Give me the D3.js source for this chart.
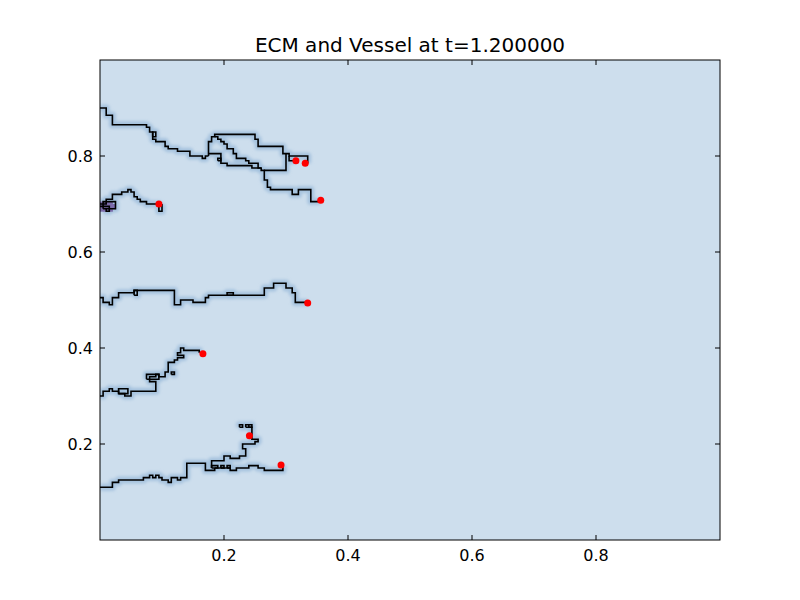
<!DOCTYPE html>
<html><head><meta charset="utf-8">
<script src="https://cdn.jsdelivr.net/npm/d3@7"></script>
<style>body{margin:0;background:#fff}svg{display:block}text{font-family:"DejaVu Sans",sans-serif}</style>
</head><body>
<svg id="c" width="800" height="600"></svg>
<script>
// grid spacing of the simulation lattice (vertices are lattice indices)
const h = 0.005;
const xTicks = [0.2, 0.4, 0.6, 0.8];
const yTicks = [0.2, 0.4, 0.6, 0.8];
const titleText = "ECM and Vessel at t=1.200000";

// vessel segments, [ix, iy] lattice indices
const vesselTop = [[0,180],[2,180],[2,177],[4,177],[4,173],[15,173],[15,172],[16,172],[16,170],[17,170],[17,167],[18,167],[18,166],[21,166],[21,164],[22,164],[22,163],[25,163],[25,162],[29,162],[29,160],[33,160],[33,159],[34,159],[34,160],[35,160]];
const vesselTopUpper = [[35,160],[35,166],[36,166],[36,168],[37,168],[37,169],[50,169],[50,167],[51,167],[51,164],[59,164],[59,161],[61,161],[61,160],[67,160],[67,157]];
const vesselTopTip = [[61,160],[61,158],[63,158]];
const vesselTopLower = [[35,161],[39,161],[39,157],[41,157],[41,156],[49,156],[49,155],[52,155],[52,154],[53,154],[53,150],[54,150],[54,147],[55,147],[55,146],[62,146],[62,144],[64,144],[64,146],[68,146],[68,141],[71,141]];
const vesselTopStair = [[37,168],[38,168],[38,167],[39,167],[39,166],[40,166],[40,165],[41,165],[41,163],[43,163],[43,161],[44,161],[44,159],[47,159],[47,158],[48,158],[48,157],[51,157],[51,155],[52,155]];
const vesselTopLoop = [[53,154],[60,154],[60,161]];
const vesselB = [[0,140],[2,140],[2,142],[4,142],[4,144],[7,144],[7,145],[9,145],[9,146],[10,146],[10,145],[11,145],[11,143],[12,143],[12,142],[13,142],[13,141],[15,141],[15,140],[19,140],[19,137],[20,137],[20,140]];
const vesselBKnot = [[0,139],[3,139],[3,137],[2,137],[2,138]];
const vesselC = [[0,101],[1,101],[1,99],[3,99],[3,98],[4,98],[4,101],[6,101],[6,103],[11,103],[11,104],[24,104],[24,98],[26,98],[26,100],[30,100],[30,99],[34,99],[34,101],[35,101],[35,102],[53,102],[53,105],[56,105],[56,107],[60,107],[60,105],[62,105],[62,103],[63,103],[63,99],[67,99]];
const vesselD = [[0,60],[1,60],[1,62],[3,62],[3,63],[4,63],[4,62],[6,62],[6,61],[8,61],[8,60],[10,60],[10,62],[18,62],[18,66],[16,66],[16,68],[18,68],[18,69],[19,69],[19,68],[21,68],[21,70],[22,70],[22,74],[24,74],[24,75],[25,75],[25,76],[27,76],[27,77],[25,77],[25,78],[26,78],[26,80],[27,80],[27,79],[32,79],[32,78]];
const vesselE = [[0,22],[4,22],[4,24],[6,24],[6,25],[14,25],[14,26],[16,26],[16,27],[17,27],[17,26],[18,26],[18,27],[19,27],[19,26],[20,26],[20,25],[22,25],[22,24],[23,24],[23,26],[25,26],[25,25],[26,25],[26,26],[28,26],[28,32],[34,32],[34,29],[37,29],[37,30]];
const vesselELower = [[37,30],[42,30],[42,29],[44,29],[44,30],[48,30],[48,31],[51,31],[51,30],[53,30],[53,29],[59,29],[59,31]];
const vesselEUpper = [[36,30],[36,33],[40,33],[40,35],[42,35],[42,34],[45,34],[45,35],[47,35],[47,38],[46,38],[46,40],[50,40],[50,41],[51,41],[51,42],[49,42],[49,47],[48,47],[48,48]];
// small closed vessel loops, [ix0, iy0, ix1, iy1]
const loops = [[17,168,18,170],[38,158,39,159],[1,138,5,141],[11,102,12,104],[41,102,43,103],[6,61,9,63],[15,67,19,69],[23,69,24,70],[36,30,38,31],[39,30,40,31],[41,30,42,31],[45,47,46,48],[47,47,49,48]];
// high-ECM cells near left edge
const denseCells = [[0,137],[1,137],[2,137],[3,137],[0,138],[1,138],[2,138],[3,138],[4,138],[0,139],[1,139],[2,139],[3,139],[4,139],[0,140],[1,140],[2,140],[3,140]];
// sprout tips
const tipX = [0.316, 0.331, 0.356, 0.095, 0.335, 0.166, 0.241, 0.292];
const tipY = [0.790, 0.785, 0.708, 0.700, 0.494, 0.388, 0.217, 0.156];

const svg = d3.select("#c");
const L = 100, R = 720, T = 60, B = 540;
const x = d3.scaleLinear().domain([0,1]).range([L,R]);
const y = d3.scaleLinear().domain([0,1]).range([B,T]);

const defs = svg.append("defs");
defs.append("filter").attr("id","blur").append("feGaussianBlur").attr("stdDeviation",1.4);
defs.append("clipPath").attr("id","clip").append("rect").attr("x",L).attr("y",T).attr("width",R-L).attr("height",B-T);

svg.append("rect").attr("x",L).attr("y",T).attr("width",R-L).attr("height",B-T).attr("fill","#cddeed");

const segs = [vesselTop, vesselTopUpper, vesselTopTip, vesselTopLower, vesselTopStair, vesselTopLoop, vesselB, vesselBKnot, vesselC, vesselD, vesselE, vesselELower, vesselEUpper];
loops.forEach(r => segs.push([[r[0],r[1]],[r[2],r[1]],[r[2],r[3]],[r[0],r[3]],[r[0],r[1]]]));

const line = d3.line().x(d => x(d[0]*h)).y(d => y(d[1]*h));
const g = svg.append("g").attr("clip-path","url(#clip)");

// degraded ECM halo
g.append("g").attr("filter","url(#blur)").selectAll("path").data(segs).join("path")
  .attr("d", line).attr("fill","none").attr("stroke","#a2c0dd").attr("stroke-width",7)
  .attr("stroke-opacity",0.9).attr("stroke-linejoin","round");

g.selectAll("rect.dense").data(denseCells).join("rect").attr("class","dense")
  .attr("x", d => x(d[0]*h)).attr("y", d => y((d[1]+1)*h))
  .attr("width", x(h)-x(0)+0.5).attr("height", y(0)-y(h)+0.5).attr("fill","#7b6aa9");

g.append("g").selectAll("path").data(segs).join("path")
  .attr("d", line).attr("fill","none").attr("stroke","#000").attr("stroke-width",1.6)
  .attr("stroke-linejoin","miter");

g.selectAll("circle").data(tipX).join("circle")
  .attr("cx", d => x(d)).attr("cy", (d,i) => y(tipY[i])).attr("r",3.5).attr("fill","#ff0000");

// frame and ticks (inside, all four sides)
svg.append("rect").attr("x",L).attr("y",T).attr("width",R-L).attr("height",B-T)
  .attr("fill","none").attr("stroke","#000").attr("stroke-width",1);
const tk = 5;
const ax = svg.append("g").attr("stroke","#000").attr("stroke-width",1);
xTicks.forEach(v => {
  ax.append("line").attr("x1",x(v)).attr("x2",x(v)).attr("y1",B).attr("y2",B-tk);
  ax.append("line").attr("x1",x(v)).attr("x2",x(v)).attr("y1",T).attr("y2",T+tk);
});
yTicks.forEach(v => {
  ax.append("line").attr("y1",y(v)).attr("y2",y(v)).attr("x1",L).attr("x2",L+tk);
  ax.append("line").attr("y1",y(v)).attr("y2",y(v)).attr("x1",R).attr("x2",R-tk);
});
const fmt = d3.format(".1f");
svg.append("g").selectAll("text").data(xTicks).join("text")
  .attr("x", d => x(d)).attr("y", B+21).attr("text-anchor","middle")
  .attr("font-size",16).text(d => fmt(d));
svg.append("g").selectAll("text").data(yTicks).join("text")
  .attr("x", L-7).attr("y", d => y(d)+6).attr("text-anchor","end")
  .attr("font-size",16).text(d => fmt(d));
svg.append("text").attr("x",(L+R)/2).attr("y",T-8).attr("text-anchor","middle")
  .attr("font-size",20).text(titleText);
</script>
</body></html>
